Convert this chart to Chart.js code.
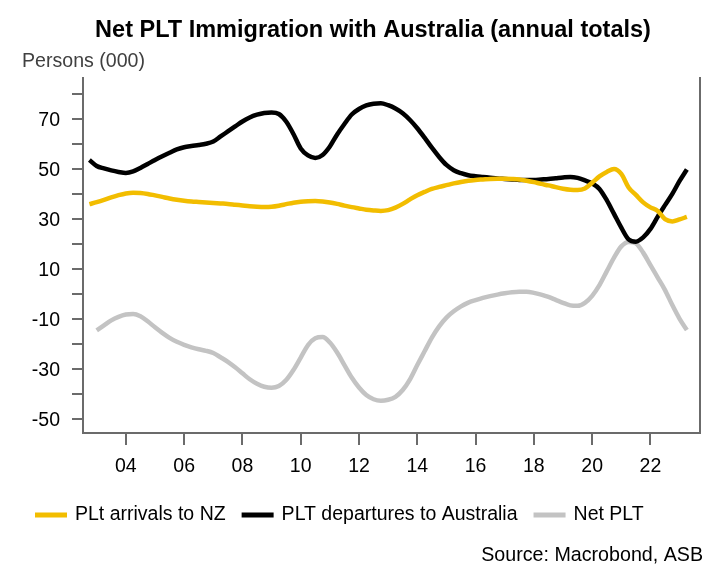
<!DOCTYPE html>
<html>
<head>
<meta charset="utf-8">
<script src="https://cdn.jsdelivr.net/npm/chart.js@4/dist/chart.umd.min.js"></script>
<style>
  html, body { margin: 0; padding: 0; background: #ffffff; }
  #wrap { width: 716px; height: 576px; }
</style>
</head>
<body>
<div id="wrap"><canvas id="c" width="716" height="576"></canvas></div>
<script>
// ---- Data ----
const titleText = "Net PLT Immigration with Australia (annual totals)";
const unitText = "Persons (000)";
const sourceText = "Source: Macrobond, ASB";
const seriesNames = ["PLt arrivals to NZ", "PLT departures to Australia", "Net PLT"];
const xTickYears = [2004, 2006, 2008, 2010, 2012, 2014, 2016, 2018, 2020, 2022];
const yTickValues = [-50, -40, -30, -20, -10, 0, 10, 20, 30, 40, 50, 60, 70, 80];
const yLabelValues = [-50, -30, -10, 10, 30, 50, 70];

// quarterly dates (fractional years)
const dates = [
  2002.75, 2003.00, 2003.25, 2003.50, 2003.75, 2004.00, 2004.25, 2004.50, 2004.75,
  2005.00, 2005.25, 2005.50, 2005.75, 2006.00, 2006.25, 2006.50, 2006.75,
  2007.00, 2007.25, 2007.50, 2007.75, 2008.00, 2008.25, 2008.50, 2008.75,
  2009.00, 2009.25, 2009.50, 2009.75, 2010.00, 2010.25, 2010.50, 2010.75,
  2011.00, 2011.25, 2011.50, 2011.75, 2012.00, 2012.25, 2012.50, 2012.75,
  2013.00, 2013.25, 2013.50, 2013.75, 2014.00, 2014.25, 2014.50, 2014.75,
  2015.00, 2015.25, 2015.50, 2015.75, 2016.00, 2016.25, 2016.50, 2016.75,
  2017.00, 2017.25, 2017.50, 2017.75, 2018.00, 2018.25, 2018.50, 2018.75,
  2019.00, 2019.25, 2019.50, 2019.75, 2020.00, 2020.25, 2020.50, 2020.75,
  2021.00, 2021.25, 2021.50, 2021.75, 2022.00, 2022.25, 2022.50, 2022.75,
  2023.00, 2023.25
];

const arrivals = [
  35.9, 36.7, 37.6, 38.6, 39.5, 40.2, 40.5, 40.4, 40.0,
  39.4, 38.8, 38.2, 37.7, 37.3, 37.0, 36.8, 36.6,
  36.4, 36.2, 36.0, 35.7, 35.4, 35.1, 34.9, 34.8,
  34.9, 35.3, 35.9, 36.5, 36.9, 37.1, 37.2, 37.0,
  36.6, 36.0, 35.3, 34.7, 34.2, 33.7, 33.4, 33.2,
  33.5, 34.5, 36.0, 37.8, 39.5, 40.8, 42.0, 42.8,
  43.5, 44.2, 44.8, 45.3, 45.6, 45.8, 46.0, 46.1,
  46.1, 46.0, 45.8, 45.3, 44.7, 44.0, 43.4, 42.7,
  42.1, 41.7, 41.6, 42.2, 44.5, 47.0, 48.8, 50.0,
  48.0, 42.6, 39.6, 36.6, 34.6, 33.2, 29.9, 29.0,
  29.8, 30.8
];

const departures = [
  53.6, 51.2, 50.2, 49.4, 48.8, 48.4, 49.0, 50.4, 52.0,
  53.6, 55.1, 56.5, 57.8, 58.7, 59.2, 59.6, 60.1,
  61.0, 63.0, 65.0, 67.0, 69.0, 70.6, 71.7, 72.4,
  72.6, 72.0, 69.0, 64.0, 58.2, 55.4, 54.4, 55.6,
  59.0, 63.8, 68.0, 71.8, 74.0, 75.4, 76.1, 76.3,
  75.5, 74.2, 72.3, 69.6, 66.3, 62.5, 58.5, 54.8,
  51.6, 49.5, 48.3, 47.5, 47.1, 46.8, 46.5, 46.2,
  46.0, 45.8, 45.6, 45.6, 45.6, 45.8, 46.0, 46.3,
  46.6, 46.8, 46.4, 45.4, 44.2, 42.0, 37.5, 32.0,
  26.5, 21.8, 20.9, 22.6, 26.0, 30.9, 35.5, 40.0,
  45.2, 49.8
];

const netPLT = [
  null, -14.6, -12.6, -10.6, -9.2, -8.3, -8.1, -9.0, -11.0,
  -13.4, -15.6, -17.6, -19.2, -20.4, -21.4, -22.2, -22.8,
  -23.7, -25.4, -27.2, -29.4, -31.8, -34.2, -36.0, -37.2,
  -37.6, -36.9, -34.5, -30.5, -25.5, -20.5, -17.8, -17.3,
  -19.5, -23.5, -28.5, -33.5, -37.5, -40.5, -42.2, -42.8,
  -42.4, -41.2, -38.5, -34.2, -28.5, -23.0, -17.5, -13.0,
  -9.5, -7.0, -5.0, -3.5, -2.5, -1.6, -0.9, -0.3,
  0.2, 0.6, 0.8, 0.8, 0.4, -0.3, -1.2, -2.4,
  -3.6, -4.6, -4.8, -3.6, -0.8, 3.5, 9.0, 14.5,
  19.0, 20.8, 20.2, 16.5, 11.5, 6.5, 1.5, -4.5,
  -10.0, -14.5
];

// ---- Styles ----
const colors = ["#F2BD00", "#000000", "#C3C3C3"];
const FONT = "'Liberation Sans', Arial, sans-serif";
const axisColor = "#6b6b6b";
const LABEL_SIZE = 19.5;

function toPoints(vals) {
  return dates.map((d, i) => ({ x: d, y: vals[i] })).filter(p => p.y !== null);
}

const textPlugin = {
  id: 'texts',
  afterDraw(chart) {
    const ctx = chart.ctx;
    ctx.save();
    function fitFont(text, weight, base, target) {
      ctx.font = weight + ' ' + base + 'px ' + FONT;
      const w = ctx.measureText(text).width;
      return base * target / w;
    }
    // Title
    let s = fitFont(titleText, 'bold', 20, 556);
    ctx.font = 'bold ' + s.toFixed(2) + 'px ' + FONT;
    ctx.fillStyle = '#000';
    ctx.textAlign = 'center';
    ctx.textBaseline = 'middle';
    ctx.fillText(titleText, 373, 31);
    // Unit
    s = fitFont(unitText, 'normal', 17, 123);
    ctx.font = s.toFixed(2) + 'px ' + FONT;
    ctx.fillStyle = '#404040';
    ctx.textAlign = 'left';
    ctx.fillText(unitText, 22, 62);
    // Legend (series names and colours from the chart's datasets)
    ctx.font = LABEL_SIZE + 'px ' + FONT;
    ctx.textAlign = 'left';
    let lx = 35;
    const ly = 515;
    chart.data.datasets.forEach((ds) => {
      ctx.fillStyle = ds.borderColor;
      ctx.fillRect(lx, ly - 2.5, 32, 5);
      lx += 32 + 8;
      ctx.fillStyle = '#000';
      ctx.fillText(ds.label, lx, ly);
      lx += ctx.measureText(ds.label).width + 16;
    });
    // Source
    s = fitFont(sourceText, 'normal', 17, 222);
    ctx.font = s.toFixed(2) + 'px ' + FONT;
    ctx.fillStyle = '#000';
    ctx.textAlign = 'right';
    ctx.fillText(sourceText, 703, 556);
    ctx.restore();
  }
};

const ctx = document.getElementById('c').getContext('2d');
new Chart(ctx, {
  type: 'line',
  data: {
    datasets: [
      { label: seriesNames[0], data: toPoints(arrivals), borderColor: colors[0], backgroundColor: colors[0] },
      { label: seriesNames[1], data: toPoints(departures), borderColor: colors[1], backgroundColor: colors[1] },
      { label: seriesNames[2], data: toPoints(netPLT), borderColor: colors[2], backgroundColor: colors[2] }
    ]
  },
  options: {
    responsive: false,
    animation: false,
    devicePixelRatio: 1,
    layout: { padding: { top: 78, left: 0, right: 16, bottom: 84 } },
    elements: {
      point: { radius: 0, hoverRadius: 0 },
      line: { borderWidth: 4.5, cubicInterpolationMode: 'monotone', borderCapStyle: 'butt', borderJoinStyle: 'round', fill: false }
    },
    plugins: {
      title: { display: false },
      tooltip: { enabled: false },
      legend: { display: false }
    },
    scales: {
      x: {
        type: 'linear',
        min: 2002.53,
        max: 2023.70,
        afterBuildTicks(scale) { scale.ticks = xTickYears.map(v => ({ value: v })); },
        afterFit(scale) { scale.height = 59; },
        grid: { display: true, drawOnChartArea: false, drawTicks: true, tickLength: 12, color: axisColor, lineWidth: 2 },
        border: { display: true, color: axisColor, width: 2 },
        ticks: {
          autoSkip: false,
          maxRotation: 0,
          padding: 10,
          color: '#000',
          font: { family: FONT, size: LABEL_SIZE },
          callback: (v) => String(Math.round(v) % 100).padStart(2, '0')
        }
      },
      y: {
        type: 'linear',
        position: 'left',
        min: -55.7,
        max: 86.4,
        afterBuildTicks(scale) { scale.ticks = yTickValues.map(v => ({ value: v })); },
        afterFit(scale) { scale.width = 83; },
        grid: { display: true, drawOnChartArea: false, drawTicks: true, tickLength: 11, color: axisColor, lineWidth: 2 },
        border: { display: true, color: axisColor, width: 2 },
        ticks: {
          autoSkip: false,
          padding: 12,
          labelOffset: 2,
          color: '#000',
          font: { family: FONT, size: LABEL_SIZE },
          callback: (v) => yLabelValues.includes(v) ? String(v) : ''
        }
      },
      yRight: {
        type: 'linear',
        position: 'right',
        min: -55.7,
        max: 86.4,
        afterFit(scale) { scale.width = 0; },
        grid: { display: false },
        border: { display: true, color: axisColor, width: 2 },
        ticks: { display: false }
      }
    }
  },
  plugins: [textPlugin]
});
</script>
</body>
</html>
